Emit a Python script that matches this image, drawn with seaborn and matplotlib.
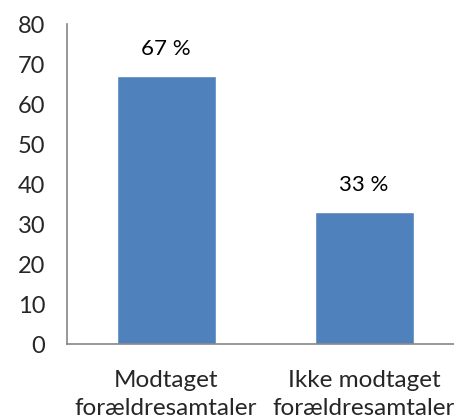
import matplotlib
matplotlib.use("Agg")
import matplotlib.pyplot as plt
import seaborn as sns
import pandas as pd

categories = ["Modtaget\nforældresamtaler", "Ikke modtaget\nforældresamtaler"]
values = [67, 33]
value_labels = ["67 %", "33 %"]
y_ticks = [0, 10, 20, 30, 40, 50, 60, 70, 80]

sns.set_theme(style="white")
plt.rcParams["font.family"] = ["Lato", "DejaVu Sans"]

df = pd.DataFrame({"kategori": categories, "andel": values})

fig = plt.figure(figsize=(4.54, 4.19), dpi=100)
ax = fig.add_axes([67 / 454, 75 / 419, 396 / 454, 320 / 419])

sns.barplot(data=df, x="kategori", y="andel", color="#4F81BD", saturation=1,
            width=0.5, ax=ax)

ax.set_xlim(-0.5, 1.5)
ax.set_ylim(0, 80)
ax.set_yticks(y_ticks)
ax.set_xticks([-0.5, 0.5, 1.5], minor=True)
ax.tick_params(axis="x", which="major", length=0, labelsize=17.5, pad=19)
ax.tick_params(axis="x", which="minor", length=5.8, width=1.2, color="#868686",
               direction="out")
ax.tick_params(axis="y", length=5.8, width=1.2, color="#868686", direction="out",
               labelsize=17, pad=10)
for t in ax.get_xticklabels():
    t.set_linespacing(1.4)
ax.set_xlabel("")
ax.set_ylabel("")

for side in ["top", "right"]:
    ax.spines[side].set_visible(False)
for side in ["left", "bottom"]:
    ax.spines[side].set_color("#868686")
    ax.spines[side].set_linewidth(1.2)

for i, (v, lab) in enumerate(zip(values, value_labels)):
    ax.annotate(lab, (i, v), xytext=(0, 12), textcoords="offset points",
                ha="center", va="bottom", fontsize=16, color="black")

fig.savefig("out.png", dpi=100)
